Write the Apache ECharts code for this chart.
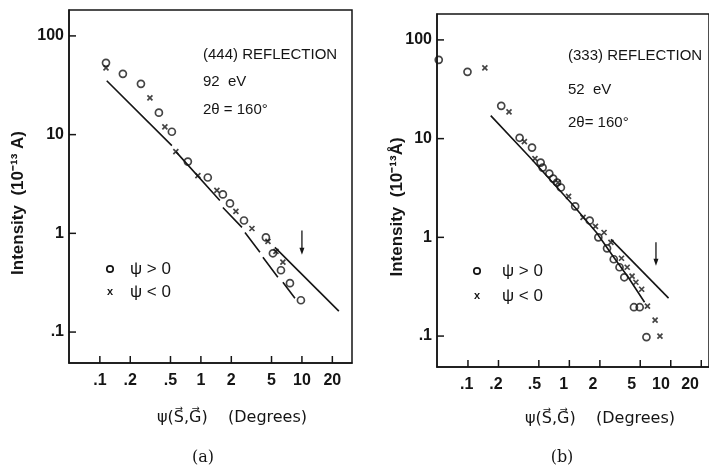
<!DOCTYPE html>
<html>
<head>
<meta charset="utf-8">
<script src="https://cdn.jsdelivr.net/npm/echarts@6/dist/echarts.min.js"></script>
<style>
  html, body { margin: 0; padding: 0; background: #fff; }
  #chart { width: 709px; height: 467px; }
</style>
</head>
<body>
<div id="chart"></div>
<script>
// tick labels
const xTicks = [0.1, 0.2, 0.5, 1, 2, 5, 10, 20]
const yTicks = [0.1, 1, 10, 100]

// (a) (444) reflection, 92 eV  -- [psi deg, intensity]
const posA = [[0.115, 53.4], [0.169, 41.3], [0.255, 32.7], [0.384, 16.7], [0.516, 10.7], [0.743, 5.33],
  [1.17, 3.68], [1.65, 2.48], [1.94, 2.01], [2.67, 1.35], [4.40, 0.91], [5.16, 0.628],
  [6.20, 0.423], [7.61, 0.313], [9.77, 0.21]]
const negA = [[0.115, 47.5], [0.313, 23.6], [0.44, 12.0], [0.565, 6.73], [0.934, 3.85], [1.44, 2.72],
  [2.22, 1.67], [3.20, 1.12], [4.61, 0.83], [5.53, 0.658], [6.48, 0.51]]
// broken fit line, '-' splits the segments
const fitA = [[0.117, 35.1], [0.516, 7.74], ['-', '-'], [0.565, 6.73], [1.54, 2.15], ['-', '-'],
  [1.65, 1.83], [2.55, 1.15], ['-', '-'], [2.73, 1.02], [3.84, 0.643], ['-', '-'],
  [4.11, 0.573], [5.78, 0.36], ['-', '-'], [6.48, 0.32], [8.53, 0.22]]
const fitA2 = [[5.4, 0.722], [23.2, 0.163]]
const arrowA = [[10, 1.07], [10, 0.66]]

// (b) (333) reflection, 52 eV
const posB = [[0.0516, 62.8], [0.102, 47.5], [0.227, 21.5], [0.351, 10.2], [0.471, 8.11], [0.578, 5.72],
  [0.606, 5.09], [0.71, 4.43], [0.778, 3.94], [0.853, 3.59], [0.934, 3.2], [1.31, 2.06],
  [1.85, 1.48], [2.27, 1.0], [2.79, 0.774], [3.27, 0.6], [3.75, 0.498], [4.2, 0.394],
  [5.28, 0.196], [6.05, 0.196], [7.1, 0.0977]]
const negB = [[0.154, 52.2], [0.273, 18.7], [0.393, 9.33], [0.505, 6.28], [0.873, 3.59], [1.12, 2.6],
  [1.58, 1.59], [2.12, 1.29], [2.6, 1.12], [3.06, 0.89], [3.93, 0.614], [4.5, 0.498],
  [5.05, 0.404], [5.53, 0.351], [6.34, 0.298], [7.27, 0.201], [8.72, 0.145], [9.78, 0.1]]
const fitB = [[0.177, 17.1], [0.45, 6.43], [1.23, 2.15], [2.17, 1.12], [3.27, 0.628], [4.61, 0.394], [6.79, 0.22]]
const fitB2 = [[3.06, 0.955], [12.0, 0.242]]
const arrowB = [[8.9, 0.89], [8.9, 0.56]]

const xMin = 0.0495, xMax = 31.3
const yMin = 0.0486, yMax = 183

const ink = '#151515'
const fontMain = 'Liberation Sans, Arial, sans-serif'
const crossPath = 'path://M0,0L10,10M10,0L0,10'

const tickFmt = v => {
  let s = String(Math.round(v * 10) / 10)
  return s.startsWith('0.') ? s.slice(1) : s
}

function xAxisFor(idx) {
  return {
    type: 'log', gridIndex: idx, min: xMin, max: xMax,
    axisLine: { show: true, lineStyle: { color: ink, width: 1.5 } },
    axisTick: { show: false },
    axisLabel: { customValues: xTicks, formatter: tickFmt, color: ink, fontSize: 16, fontWeight: 'bold', fontFamily: fontMain, margin: 10 },
    splitLine: { show: false }
  }
}
function yAxisFor(idx) {
  return {
    type: 'log', gridIndex: idx, min: yMin, max: yMax,
    axisLine: { show: true, lineStyle: { color: ink, width: 1.5 } },
    axisTick: { show: false },
    axisLabel: { customValues: yTicks, formatter: tickFmt, color: ink, fontSize: 16, fontWeight: 'bold', fontFamily: fontMain, margin: 5 },
    splitLine: { show: false }
  }
}

function pts(name, data, idx, isCross) {
  return {
    name: name, type: 'scatter', xAxisIndex: idx, yAxisIndex: idx, data: data,
    symbol: isCross ? crossPath : 'circle', symbolSize: isCross ? 5 : 7,
    itemStyle: { color: isCross ? ink : 'rgba(0,0,0,0)', borderColor: ink, borderWidth: 1.7 },
    z: 3
  }
}
function fit(data, idx) {
  return {
    type: 'line', xAxisIndex: idx, yAxisIndex: idx, data: data, symbol: 'none', connectNulls: false,
    lineStyle: { color: ink, width: 1.6 }, z: 2
  }
}
// short downward arrow: a two-point line with a triangle head on the lower end
function arrow(data, idx) {
  return {
    type: 'line', xAxisIndex: idx, yAxisIndex: idx, showSymbol: true,
    data: [{ value: data[0], symbol: 'none' },
      { value: data[1], symbol: 'triangle', symbolRotate: 180, symbolSize: [5, 7] }],
    itemStyle: { color: ink }, lineStyle: { color: ink, width: 1.3 }, z: 2
  }
}

function txt(x, y, s, font) {
  return {
    type: 'text', x: x, y: y,
    style: { text: s, fill: ink, font: font || ('14px ' + fontMain), verticalAlign: 'middle' }
  }
}
function legendItems(x, y1, y2) {
  return [
    { type: 'circle', shape: { cx: x, cy: y1, r: 3.2 }, style: { fill: 'none', stroke: ink, lineWidth: 1.7 } },
    { type: 'text', x: x, y: y2, style: { text: 'x', fill: ink, font: 'bold 11px ' + fontMain, align: 'center', verticalAlign: 'middle' } }
  ]
}

const legFont = '17px ' + fontMain
const baseGraphics = [
  txt(203, 55, '(444) REFLECTION', '15px ' + fontMain),
  txt(203, 82, '92  eV', '15px ' + fontMain),
  txt(203, 110, '2θ = 160°', '15px ' + fontMain),
  txt(568, 56, '(333) REFLECTION', '15px ' + fontMain),
  txt(568, 90, '52  eV', '15px ' + fontMain),
  txt(568, 123, '2θ= 160°', '15px ' + fontMain),
  ...legendItems(110, 269, 292),
  txt(130, 269, 'ψ > 0', legFont),
  txt(130, 292, 'ψ < 0', legFont),
  ...legendItems(477, 271, 296),
  txt(502, 271, 'ψ > 0', legFont),
  txt(502, 296, 'ψ < 0', legFont),
  { type: 'text', x: 18, y: 203, rotation: Math.PI / 2,
    style: { text: 'Intensity  (10⁻¹³ A)', fill: ink, font: 'bold 17px ' + fontMain, align: 'center', verticalAlign: 'middle' } },
  { type: 'text', x: 397, y: 207, rotation: Math.PI / 2,
    style: { text: 'Intensity  (10⁻¹³Å)', fill: ink, font: 'bold 17px ' + fontMain, align: 'center', verticalAlign: 'middle' } },
  { type: 'text', x: 232, y: 418,
    style: { text: 'ψ(S⃗,G⃗)    (Degrees)', fill: ink, font: '16px DejaVu Sans, sans-serif', align: 'center', verticalAlign: 'middle' } },
  { type: 'text', x: 600, y: 419,
    style: { text: 'ψ(S⃗,G⃗)    (Degrees)', fill: ink, font: '16px DejaVu Sans, sans-serif', align: 'center', verticalAlign: 'middle' } },
  { type: 'text', x: 203, y: 458,
    style: { text: '(a)', fill: ink, font: '16px DejaVu Serif, serif', align: 'center', verticalAlign: 'middle' } },
  { type: 'text', x: 562, y: 458,
    style: { text: '(b)', fill: ink, font: '16px DejaVu Serif, serif', align: 'center', verticalAlign: 'middle' } }
]

const W = 709, H = 467
const gridBoxes = [
  { left: 69, right: 357, top: 10, bottom: 104 },
  { left: 437, right: -12, top: 14, bottom: 100 }
]

const chart = echarts.init(document.getElementById('chart'))
chart.setOption({
  animation: false,
  grid: gridBoxes.map(b => Object.assign({ show: true, borderColor: ink, borderWidth: 1.5 }, b)),
  xAxis: [xAxisFor(0), xAxisFor(1)],
  yAxis: [yAxisFor(0), yAxisFor(1)],
  series: [
    pts('ψ > 0', posA, 0, false), pts('ψ < 0', negA, 0, true), fit(fitA, 0), fit(fitA2, 0), arrow(arrowA, 0),
    pts('ψ > 0', posB, 1, false), pts('ψ < 0', negB, 1, true), fit(fitB, 1), fit(fitB2, 1), arrow(arrowB, 1)
  ]
})

// inward tick marks on the log axes
const lg = Math.log10
const tickLen = 7
const tickGfx = []
gridBoxes.forEach(b => {
  const x0 = b.left, x1 = W - b.right, y0 = H - b.bottom, y1 = b.top
  xTicks.forEach(v => {
    const px = x0 + (lg(v) - lg(xMin)) / (lg(xMax) - lg(xMin)) * (x1 - x0)
    tickGfx.push({ type: 'line', shape: { x1: px, y1: y0, x2: px, y2: y0 - tickLen }, style: { stroke: ink, lineWidth: 1.5 } })
  })
  yTicks.forEach(v => {
    const py = y0 + (lg(v) - lg(yMin)) / (lg(yMax) - lg(yMin)) * (y1 - y0)
    tickGfx.push({ type: 'line', shape: { x1: x0, y1: py, x2: x0 + tickLen, y2: py }, style: { stroke: ink, lineWidth: 1.5 } })
  })
})
chart.setOption({ graphic: tickGfx.concat(baseGraphics) })
</script>
</body>
</html>
